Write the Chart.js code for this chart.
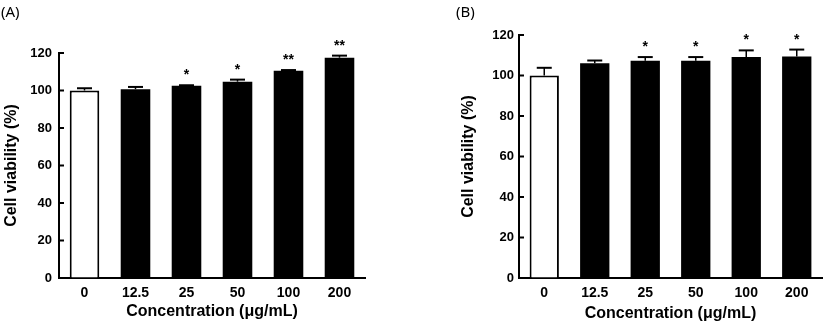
<!DOCTYPE html>
<html>
<head>
<meta charset="utf-8">
<script src="https://cdn.jsdelivr.net/npm/chart.js@4.4.1/dist/chart.umd.min.js"></script>
<style>
    body { margin: 0; background: #fff; }
    .panel { position: absolute; top: 0; height: 325px; }
    .tag { position: absolute; top: 1px; font-family: "Noto Sans", sans-serif; font-size: 15px; color: #000; }
</style>
</head>
<body>
<div class="panel" style="left:0; width:413px;"><canvas id="chart-a"></canvas></div>
<div class="panel" style="left:413px; width:414px;"><canvas id="chart-b"></canvas></div>
<div class="tag" style="left:1px;">(A)</div>
<div class="tag" style="left:456px;">(B)</div>
<script>
const concentrations = ['0', '12.5', '25', '50', '100', '200'];
const yTicks = [0, 20, 40, 60, 80, 100, 120];

// panel A
const viabilityA = [100, 100.7, 102.6, 104.7, 110.6, 117.5];
const errorA = [1.2, 1.2, 0.2, 1.1, 0.3, 1.1];
const starsA = ['', '', '*', '*', '**', '**'];

// panel B
const viabilityB = [100, 106, 107.3, 107.3, 109.1, 109.4];
const errorB = [3.8, 1.4, 1.8, 1.8, 3.3, 3.4];
const starsB = ['', '', '*', '*', '*', '*'];

const fontFamily = '"Liberation Sans", Arial, sans-serif';

// error bars (upper only), significance stars and inward y ticks
const extras = {
    id: 'extras',
    afterDatasetsDraw(chart, args, opts) {
        const ctx = chart.ctx;
        const meta = chart.getDatasetMeta(0);
        const y = chart.scales.y;
        const area = chart.chartArea;
        ctx.save();
        ctx.strokeStyle = '#000';
        ctx.fillStyle = '#000';
        meta.data.forEach((bar, i) => {
            const top = y.getPixelForValue(opts.values[i]);
            const errTop = y.getPixelForValue(opts.values[i] + opts.errors[i]);
            ctx.lineWidth = 1.5;
            ctx.beginPath();
            ctx.moveTo(bar.x, top);
            ctx.lineTo(bar.x, errTop);
            ctx.stroke();
            ctx.lineWidth = 2;
            ctx.beginPath();
            ctx.moveTo(bar.x - 7.5, errTop);
            ctx.lineTo(bar.x + 7.5, errTop);
            ctx.stroke();
            if (opts.stars[i]) {
                ctx.font = 'bold 14px ' + fontFamily;
                ctx.textAlign = 'center';
                ctx.textBaseline = 'alphabetic';
                ctx.fillText(opts.stars[i], bar.x, errTop - 6);
            }
        });
        ctx.lineWidth = 2;
        yTicks.forEach(v => {
            const py = y.getPixelForValue(v);
            ctx.beginPath();
            ctx.moveTo(area.left, py);
            ctx.lineTo(area.left + 5, py);
            ctx.stroke();
        });
        ctx.restore();
    }
};

function makeChart(id, values, errors, stars, cfg) {
    const ctx = document.getElementById(id).getContext('2d');
    return new Chart(ctx, {
        type: 'bar',
        data: {
            labels: concentrations,
            datasets: [{
                data: values,
                backgroundColor: values.map((v, i) => i === 0 ? '#fff' : '#000'),
                borderColor: '#000',
                borderWidth: values.map((v, i) => i === 0 ? 2 : 0),
                barPercentage: 0.58,
                categoryPercentage: 1
            }]
        },
        options: {
            responsive: true,
            maintainAspectRatio: false,
            animation: false,
            layout: { padding: cfg.padding },
            plugins: {
                legend: { display: false },
                tooltip: { enabled: false },
                extras: { values: values, errors: errors, stars: stars }
            },
            scales: {
                x: {
                    grid: { drawOnChartArea: false, drawTicks: false },
                    border: { display: true, color: '#000', width: 2 },
                    ticks: { color: '#000', padding: 7, font: { family: fontFamily, size: 14, weight: 'bold' } },
                    title: {
                        display: true,
                        text: 'Concentration (μg/mL)',
                        color: '#000',
                        padding: { top: 0, bottom: cfg.xTitlePad },
                        font: { family: fontFamily, size: 16, weight: 'bold' }
                    },
                    afterFit(scale) { scale.height = 47; }
                },
                y: {
                    min: 0,
                    max: 120,
                    grid: { drawOnChartArea: false, drawTicks: false },
                    border: { display: true, color: '#000', width: 2 },
                    ticks: { stepSize: 20, color: '#000', padding: cfg.tickPad, font: { family: fontFamily, size: 13, weight: 'bold' } },
                    title: {
                        display: true,
                        text: 'Cell viability (%)',
                        color: '#000',
                        padding: { top: 2.4, bottom: 0 },
                        font: { family: fontFamily, size: 16, weight: 'bold' }
                    },
                    afterFit(scale) { scale.width = cfg.yWidth; }
                }
            }
        },
        plugins: [extras]
    });
}

makeChart('chart-a', viabilityA, errorA, starsA, {
    padding: { left: 0, right: 48, top: 53, bottom: 0 },
    yWidth: 59, tickPad: 7, xTitlePad: 3.4
});
makeChart('chart-b', viabilityB, errorB, starsB, {
    padding: { left: 44, right: 5, top: 35, bottom: 0 },
    yWidth: 62, tickPad: 5, xTitlePad: 1.4
});
</script>
</body>
</html>
